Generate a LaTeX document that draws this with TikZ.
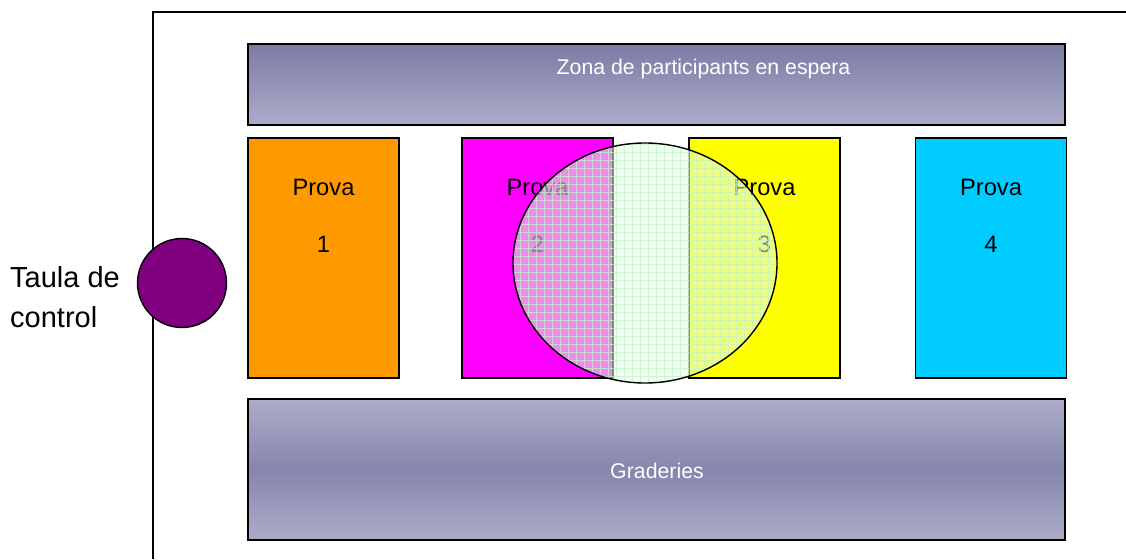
\documentclass[tikz,border=0pt]{standalone}
\usepackage{fontspec}
\setmainfont{Liberation Sans}
\usetikzlibrary{positioning,shapes.geometric}
\definecolor{colprova1}{HTML}{FF9900}
\definecolor{colprova2}{HTML}{FF00FF}
\definecolor{colprova3}{HTML}{FFFF00}
\definecolor{colprova4}{HTML}{00CCFF}
\definecolor{violeta}{HTML}{800080}
\definecolor{zonatop}{HTML}{7B7BA5}
\definecolor{zonabot}{HTML}{ACACC9}
\definecolor{grmid}{HTML}{8686AD}
\definecolor{verdclar}{HTML}{E3FFE3}
\definecolor{verdgrid}{HTML}{C4F2C4}

\begin{document}
\begin{tikzpicture}[x=1pt,y=-1pt,
	zona/.style={draw, line width=1.4pt, inner sep=0pt, minimum width=817pt},
	provabox/.style={draw, line width=1.4pt, inner sep=0pt, minimum width=151pt, minimum height=240pt},
	provatext/.style={anchor=base, inner sep=0pt, font=\fontsize{23.7}{28}\selectfont},
	zonatext/.style={anchor=base, inner sep=0pt, text=white, font=\fontsize{21.3}{25}\selectfont}]
	\useasboundingbox (0,0) rectangle (1126,559);
	
	%frame
	\draw[line width=1.4pt] (153,559) -- (153,12) -- (1126,12);
	
	%zones
	\node[zona, minimum height=81pt, top color=zonatop, bottom color=zonabot] (espera) at (656.5,84.5) {};
	\node[zonatext] at (703.5,75) {Zona de participants en espera};
	\node[zona, minimum height=141pt, top color=zonabot, bottom color=zonabot, middle color=grmid] (graderies) at (656.5,469.5) {};
	\node[zonatext] at (657,478) {Graderies};
	
	%proves
	\foreach \x/\n in {323.5/1, 537.5/2, 764.5/3, 991/4}{
		\node[provabox, fill=colprova\n] (prova\n) at (\x,258) {};
		\node[provatext] at (\x,195) {Prova};
		\node[provatext] at (\x,252) {\n};
	}
	
	%central area
	\fill[verdclar, fill opacity=0.55] (645,263) ellipse [x radius=132pt, y radius=120pt];
	\begin{scope}
		\clip (645,263) ellipse [x radius=132pt, y radius=120pt];
		\draw[verdgrid, line width=0.6pt, opacity=0.75, step=8pt] (505,135) grid (785,391);
	\end{scope}
	\node[ellipse, draw, line width=1.4pt, inner sep=0pt, minimum width=264pt, minimum height=240pt] (pista) at (645,263) {};
	
	%control
	\node[circle, draw, line width=1.4pt, fill=violeta, inner sep=0pt, minimum size=89pt] (taula) at (182,283) {};
	\node[anchor=base west, align=left, inner sep=0pt, font=\fontsize{29}{40}\selectfont] (taulatext) at (10,327) {Taula de\\control};
\end{tikzpicture}
\end{document}
